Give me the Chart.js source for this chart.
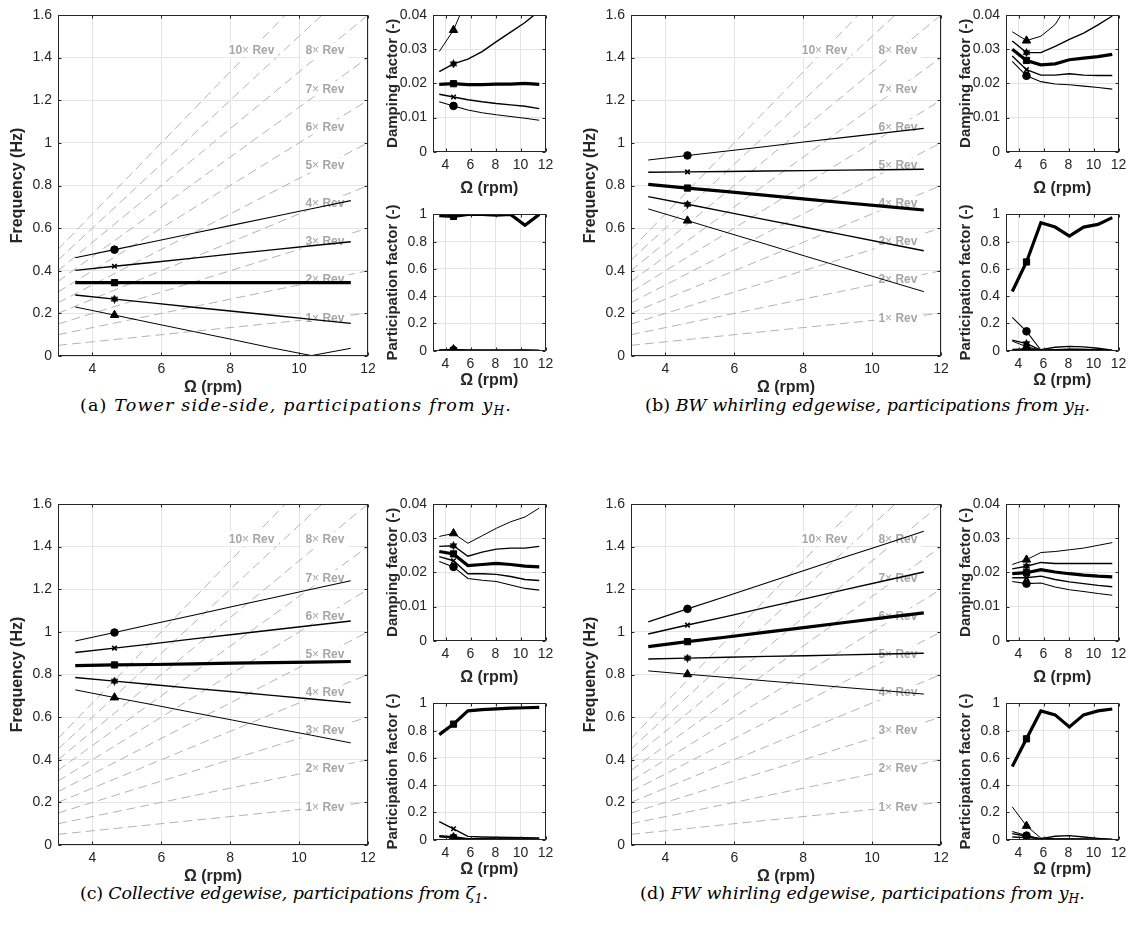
<!DOCTYPE html>
<html>
<head>
<meta charset="utf-8">
<script src="https://cdn.jsdelivr.net/npm/chart.js@4.4.0/dist/chart.umd.min.js"></script>
<style>
  body { margin: 0; background: #fff; }
  #page { position: relative; width: 1129px; height: 927px; overflow: hidden; background: #fff; }
  canvas { position: absolute; }
  .cap { position: absolute; font-family: 'DejaVu Serif', 'Liberation Serif', serif; font-size: 17.5px; line-height: 18px; color: #000; white-space: nowrap; }
  .cap sub { font-size: 0.7em; vertical-align: -0.3em; line-height: 0; }
</style>
</head>
<body>
<div id="page">
  <div class="cap" style="left:80px;top:396px">(a) <i>Tower side-side, participations from y<sub>H</sub>.</i></div>
  <div class="cap" style="left:645px;top:396px">(b) <i>BW whirling edgewise, participations from y<sub>H</sub>.</i></div>
  <div class="cap" style="left:80px;top:884px">(c) <i>Collective edgewise, participations from ζ<sub>1</sub>.</i></div>
  <div class="cap" style="left:640px;top:884px">(d) <i>FW whirling edgewise, participations from y<sub>H</sub>.</i></div>
</div>
<script>
// rotor speed grid (rpm), marker shown at the second point
const omega = [3.5, 4.64, 5.79, 6.93, 8.07, 9.21, 10.36, 11.5];
const markerIndex = 1;

const omegaTicks = [4, 6, 8, 10, 12];
const freqTicks = [0, 0.2, 0.4, 0.6, 0.8, 1, 1.2, 1.4, 1.6];
const dampTicks = [0, 0.01, 0.02, 0.03, 0.04];
const partTicks = [0, 0.2, 0.4, 0.6, 0.8, 1];

// k x Rev harmonics
const revOrders = [1, 2, 3, 4, 5, 6, 7, 8, 9, 10];
const revOmega = [3, 12];
const revLabelOrders = [1, 2, 3, 4, 5, 6, 7, 8, 10];
const revLabelOmega = [10.75, 10.75, 10.75, 10.75, 10.75, 10.75, 10.75, 10.75, 8.62];

// rows: circle, cross, square, star, triangle
const freqA = [
  [0.461, 0.499, 0.537, 0.576, 0.614, 0.652, 0.691, 0.729],
  [0.402, 0.421, 0.440, 0.459, 0.479, 0.498, 0.517, 0.536],
  [0.344, 0.344, 0.344, 0.344, 0.344, 0.344, 0.344, 0.344],
  [0.286, 0.267, 0.248, 0.229, 0.210, 0.191, 0.172, 0.153],
  [0.230, 0.192, 0.153, 0.115, 0.077, 0.038, 0.002, 0.036]
];
const dampA = [
  [0.0146, 0.0134, 0.0122, 0.0114, 0.0108, 0.0103, 0.0098, 0.0092],
  [0.0168, 0.0160, 0.0152, 0.0146, 0.0141, 0.0137, 0.0133, 0.0126],
  [0.0197, 0.0199, 0.0196, 0.0196, 0.0198, 0.0198, 0.0200, 0.0197],
  [0.0234, 0.0257, 0.0271, 0.0293, 0.0322, 0.0350, 0.0378, 0.0412],
  [0.0293, 0.0356, 0.0455, 0.0560, 0.0680, 0.0800, 0.0920, 0.1050]
];
const partA = [
  [0.002, 0.004, 0.002, 0.002, 0.002, 0.002, 0.003, 0.001],
  [0.003, 0.005, 0.003, 0.003, 0.004, 0.003, 0.004, 0.002],
  [0.990, 0.985, 1.000, 1.000, 0.995, 1.000, 0.920, 1.000],
  [0.004, 0.008, 0.004, 0.003, 0.003, 0.003, 0.003, 0.002],
  [0.004, 0.010, 0.004, 0.003, 0.003, 0.003, 0.003, 0.002]
];

const freqB = [
  [0.920, 0.941, 0.962, 0.983, 1.005, 1.026, 1.047, 1.068],
  [0.862, 0.864, 0.866, 0.868, 0.870, 0.872, 0.874, 0.876],
  [0.805, 0.788, 0.771, 0.754, 0.736, 0.719, 0.702, 0.685],
  [0.748, 0.712, 0.675, 0.639, 0.603, 0.567, 0.530, 0.494],
  [0.690, 0.635, 0.579, 0.524, 0.468, 0.413, 0.357, 0.302]
];
const dampB = [
  [0.0264, 0.0222, 0.0205, 0.0198, 0.0196, 0.0192, 0.0188, 0.0183],
  [0.0280, 0.0240, 0.0224, 0.0224, 0.0228, 0.0224, 0.0223, 0.0223],
  [0.0300, 0.0267, 0.0254, 0.0257, 0.0269, 0.0274, 0.0278, 0.0285],
  [0.0324, 0.0290, 0.0290, 0.0308, 0.0329, 0.0347, 0.0371, 0.0397],
  [0.0351, 0.0325, 0.0338, 0.0372, 0.0440, 0.0500, 0.0560, 0.0620]
];
const partB = [
  [0.244, 0.142, 0.005, 0.008, 0.012, 0.010, 0.006, 0.001],
  [0.010, 0.012, 0.008, 0.025, 0.032, 0.028, 0.018, 0.003],
  [0.434, 0.651, 0.939, 0.907, 0.841, 0.907, 0.927, 0.976],
  [0.078, 0.052, 0.004, 0.005, 0.010, 0.010, 0.008, 0.002],
  [0.070, 0.030, 0.003, 0.004, 0.006, 0.006, 0.004, 0.001]
];

const freqC = [
  [0.957, 0.997, 1.038, 1.078, 1.119, 1.159, 1.200, 1.240],
  [0.903, 0.924, 0.945, 0.967, 0.988, 1.009, 1.030, 1.051],
  [0.842, 0.845, 0.847, 0.850, 0.853, 0.856, 0.858, 0.861],
  [0.786, 0.769, 0.752, 0.735, 0.719, 0.702, 0.685, 0.668],
  [0.728, 0.692, 0.657, 0.621, 0.586, 0.550, 0.515, 0.479]
];
const dampC = [
  [0.0232, 0.0216, 0.0182, 0.0177, 0.0173, 0.0163, 0.0153, 0.0148],
  [0.0246, 0.0234, 0.0196, 0.0196, 0.0194, 0.0188, 0.0179, 0.0176],
  [0.0261, 0.0254, 0.0220, 0.0223, 0.0226, 0.0223, 0.0218, 0.0216],
  [0.0276, 0.0278, 0.0247, 0.0259, 0.0268, 0.0271, 0.0271, 0.0276],
  [0.0305, 0.0314, 0.0285, 0.0307, 0.0329, 0.0348, 0.0362, 0.0388]
];
const partC = [
  [0.020, 0.012, 0.006, 0.005, 0.005, 0.004, 0.004, 0.003],
  [0.133, 0.080, 0.024, 0.020, 0.018, 0.016, 0.014, 0.012],
  [0.771, 0.848, 0.945, 0.955, 0.960, 0.965, 0.968, 0.971],
  [0.030, 0.022, 0.008, 0.007, 0.006, 0.005, 0.005, 0.004],
  [0.025, 0.015, 0.005, 0.004, 0.004, 0.003, 0.003, 0.002]
];

const freqD = [
  [1.047, 1.108, 1.168, 1.229, 1.290, 1.351, 1.411, 1.472],
  [0.990, 1.032, 1.073, 1.115, 1.156, 1.198, 1.240, 1.281],
  [0.931, 0.954, 0.976, 0.999, 1.021, 1.044, 1.067, 1.089],
  [0.873, 0.877, 0.881, 0.885, 0.888, 0.892, 0.896, 0.900],
  [0.817, 0.801, 0.786, 0.770, 0.755, 0.739, 0.724, 0.708]
];
const dampD = [
  [0.0173, 0.0167, 0.0169, 0.0157, 0.0149, 0.0144, 0.0138, 0.0133],
  [0.0184, 0.0184, 0.0189, 0.0179, 0.0172, 0.0167, 0.0162, 0.0158],
  [0.0196, 0.0199, 0.0208, 0.0201, 0.0196, 0.0192, 0.0189, 0.0187],
  [0.0210, 0.0218, 0.0229, 0.0226, 0.0226, 0.0226, 0.0226, 0.0226],
  [0.0223, 0.0237, 0.0258, 0.0261, 0.0266, 0.0271, 0.0279, 0.0287]
];
const partD = [
  [0.060, 0.030, 0.006, 0.005, 0.006, 0.005, 0.004, 0.002],
  [0.020, 0.015, 0.008, 0.025, 0.030, 0.020, 0.010, 0.002],
  [0.537, 0.740, 0.945, 0.916, 0.827, 0.916, 0.945, 0.959],
  [0.045, 0.025, 0.005, 0.004, 0.004, 0.004, 0.003, 0.002],
  [0.241, 0.101, 0.012, 0.006, 0.005, 0.004, 0.003, 0.002]
];

const INK = '#262626';
const GRID = '#e4e4e4';
const REV = '#b3b3b3';
const SANS = "'Liberation Sans', Arial, sans-serif";
const tickFont = { family: SANS, size: 14 };
const mainTitleFont = { family: SANS, size: 16, weight: 'bold' };
const smallTitleFont = { family: SANS, size: 15, weight: 'bold' };

// filled hexagram marker
function makeHexagram(size) {
  const c = document.createElement('canvas');
  c.width = size; c.height = size;
  const g = c.getContext('2d');
  const r = size / 2, cx = size / 2, cy = size / 2;
  g.fillStyle = '#000';
  [0, Math.PI].forEach(function (rot) {
    g.beginPath();
    for (let i = 0; i < 3; i++) {
      const a = rot - Math.PI / 2 + i * 2 * Math.PI / 3;
      const px = cx + r * Math.cos(a), py = cy + r * Math.sin(a);
      if (i === 0) g.moveTo(px, py); else g.lineTo(px, py);
    }
    g.closePath();
    g.fill();
  });
  return c;
}
const hexagram = makeHexagram(9);

const modeStyles = [
  { pointStyle: 'circle', radius: 3.8, width: 1.1, pw: 1 },
  { pointStyle: 'crossRot', radius: 3.2, width: 1.4, pw: 1.6 },
  { pointStyle: 'rect', radius: 4.4, width: 3.2, pw: 1 },
  { pointStyle: hexagram, radius: 4, width: 1.4, pw: 1 },
  { pointStyle: 'triangle', radius: 4.8, width: 1.0, pw: 1 }
];

function modeDatasets(rows) {
  return rows.map(function (row, i) {
    const st = modeStyles[i];
    return {
      data: omega.map((w, j) => ({ x: w, y: row[j] })),
      borderColor: '#000',
      borderWidth: st.width,
      pointStyle: st.pointStyle,
      pointRadius: omega.map((w, j) => j === markerIndex ? st.radius : 0),
      pointBackgroundColor: '#000',
      pointBorderColor: '#000',
      pointBorderWidth: st.pw,
      tension: 0
    };
  });
}

function revDatasets() {
  return revOrders.map(k => ({
    data: revOmega.map(w => ({ x: w, y: k * w / 60 })),
    borderColor: REV,
    borderWidth: 1,
    borderDash: [9, 5],
    pointRadius: 0,
    tension: 0
  }));
}

const framePlugin = {
  id: 'frame',
  afterDatasetsDraw(chart) {
    const { ctx, chartArea: a, scales } = chart;
    ctx.save();
    ctx.strokeStyle = INK;
    ctx.lineWidth = 1;
    const L = Math.round(a.left) + 0.5, R = Math.round(a.right) - 0.5;
    const T = Math.round(a.top) + 0.5, B = Math.round(a.bottom) - 0.5;
    ctx.strokeRect(L, T, R - L, B - T);
    ctx.beginPath();
    scales.x.ticks.forEach(t => {
      const p = Math.round(scales.x.getPixelForValue(t.value)) + 0.5;
      ctx.moveTo(p, B); ctx.lineTo(p, B - 3);
      ctx.moveTo(p, T); ctx.lineTo(p, T + 3);
    });
    scales.y.ticks.forEach(t => {
      const p = Math.round(scales.y.getPixelForValue(t.value)) + 0.5;
      ctx.moveTo(L, p); ctx.lineTo(L + 3, p);
      ctx.moveTo(R, p); ctx.lineTo(R - 3, p);
    });
    ctx.stroke();
    ctx.restore();
  }
};

// labels sit on the harmonic lines, drawn after the last dashed line
const revLabelPlugin = {
  id: 'revLabels',
  afterDatasetDraw(chart, args) {
    if (args.index !== 5) return;
    const { ctx, scales } = chart;
    ctx.save();
    ctx.textBaseline = 'middle';
    ctx.textAlign = 'left';
    revLabelOrders.forEach(function (k, i) {
      const w = revLabelOmega[i];
      const px = scales.x.getPixelForValue(w);
      const py = scales.y.getPixelForValue(k * w / 60);
      const parts = [[String(k), 'bold'], ['\u00d7', 'normal'], [' Rev', 'bold']];
      let total = 0;
      const widths = parts.map(p => { ctx.font = p[1] + ' 12px ' + SANS; const m = ctx.measureText(p[0]).width; total += m; return m; });
      ctx.fillStyle = '#fff';
      ctx.fillRect(px - total / 2 - 4, py - 7.5, total + 8, 15);
      ctx.fillStyle = '#a6a6a6';
      let x = px - total / 2;
      parts.forEach((p, j) => {
        ctx.font = p[1] + ' 12px ' + SANS;
        ctx.fillText(p[0], x, py + 0.5);
        x += widths[j];
      });
    });
    ctx.restore();
  }
};

function fmt(v) { return String(+Number(v).toFixed(3)); }

function xAxis(fitH, padBottom) {
  return {
    type: 'linear', min: 3, max: 12,
    afterBuildTicks: s => { s.ticks = omegaTicks.map(v => ({ value: v })); },
    afterFit: s => { s.height = fitH; },
    grid: { color: GRID, drawTicks: false },
    border: { display: false },
    ticks: { font: tickFont, color: INK, padding: 5, autoSkip: false, maxRotation: 0, callback: fmt },
    title: { display: true, text: '\u03a9 (rpm)', font: mainTitleFont, color: INK, padding: { top: 0, bottom: padBottom } }
  };
}

function yAxis(max, ticks, fitW, text, font, padTop) {
  return {
    min: 0, max: max,
    afterBuildTicks: s => { s.ticks = ticks.map(v => ({ value: v })); },
    afterFit: s => { s.width = fitW; },
    grid: { color: GRID, drawTicks: false },
    border: { display: false },
    ticks: { font: tickFont, color: INK, padding: 6, autoSkip: false, callback: fmt },
    title: { display: true, text: text, font: font, color: INK, padding: { top: padTop, bottom: 0 } }
  };
}

function addCanvas(left, top, w, h) {
  const c = document.createElement('canvas');
  c.width = w; c.height = h;
  c.style.left = left + 'px'; c.style.top = top + 'px';
  c.style.width = w + 'px'; c.style.height = h + 'px';
  document.getElementById('page').appendChild(c);
  return c;
}

function draw(canvas, datasets, scales, padding, plugins) {
  return new Chart(canvas, {
    type: 'line',
    data: { datasets: datasets },
    options: {
      responsive: false,
      animation: false,
      devicePixelRatio: 1,
      layout: { padding: padding },
      plugins: { legend: { display: false }, tooltip: { enabled: false } },
      scales: scales
    },
    plugins: plugins
  });
}

const panels = [
  { ox: 0, oy: 0, freq: freqA, damp: dampA, part: partA },
  { ox: 573, oy: 0, freq: freqB, damp: dampB, part: partB },
  { ox: 0, oy: 489, freq: freqC, damp: dampC, part: partC },
  { ox: 573, oy: 489, freq: freqD, damp: dampD, part: partD }
];

panels.forEach(function (p) {
  // main frequency plot: plot area x 58..368, y 15..356
  draw(addCanvas(p.ox, p.oy, 385, 400),
    modeDatasets(p.freq).concat(revDatasets()),
    { x: xAxis(44, 2.4), y: yAxis(1.6, freqTicks, 58, 'Frequency (Hz)', mainTitleFont, 7.5) },
    { left: 0, right: 17, top: 15, bottom: 0 },
    [framePlugin, revLabelPlugin]);

  // damping: plot area x 433..545.5, y 15..151.7
  draw(addCanvas(p.ox + 370, p.oy, 190, 200),
    modeDatasets(p.damp),
    { x: xAxis(48.3, 1.4), y: yAxis(0.04, dampTicks, 63, 'Damping factor (-)', smallTitleFont, 14) },
    { left: 0, right: 14.5, top: 15, bottom: 0 },
    [framePlugin]);

  // participation: plot area x 433..545.5, y 213.3..350.7
  draw(addCanvas(p.ox + 370, p.oy + 200, 190, 200),
    modeDatasets(p.part),
    { x: xAxis(49.3, 9.4), y: yAxis(1, partTicks, 63, 'Participation factor (-)', smallTitleFont, 14) },
    { left: 0, right: 14.5, top: 13.3, bottom: 0 },
    [framePlugin]);
});

// fit captions to the width they take in the figure
const capWidths = [432, 445, 408, 445];
document.querySelectorAll('.cap').forEach(function (el, i) {
  const natural = el.getBoundingClientRect().width;
  const n = el.textContent.length;
  el.style.letterSpacing = ((capWidths[i] - natural) / n).toFixed(2) + 'px';
});
</script>
</body>
</html>
